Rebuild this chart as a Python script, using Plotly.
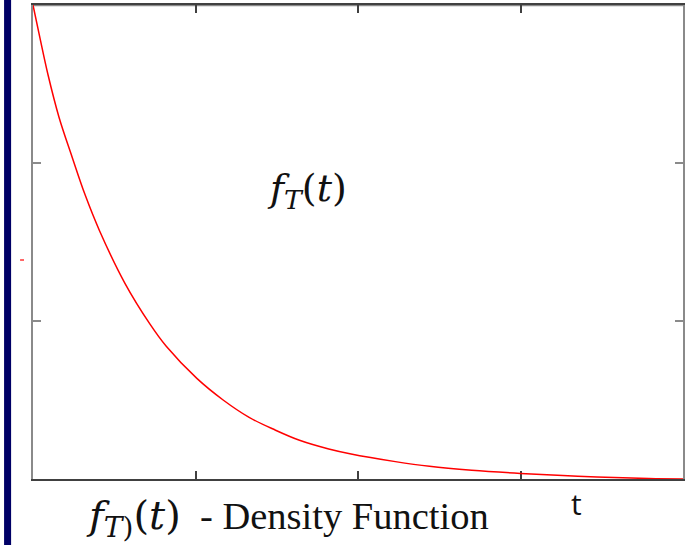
import plotly.graph_objects as go

# Values (t axis 0..4, density axis 0..3)
t_vals = [0, 0.043, 0.092, 0.16, 0.24, 0.32, 0.41, 0.565, 0.72, 0.82, 1.01, 1.17,
          1.33, 1.49, 1.64, 1.82, 1.95, 2.23, 2.44, 2.70, 3.0, 3.26, 3.47, 3.79, 4.0]
f_vals = [3.0, 2.79, 2.56, 2.29, 2.04, 1.80, 1.57, 1.24, 0.98, 0.84, 0.635, 0.50,
          0.39, 0.31, 0.245, 0.19, 0.16, 0.11, 0.08, 0.055, 0.035, 0.022, 0.013, 0.003, 0.0]
x_ticks = [1, 2, 3]
y_ticks = [1, 2]

fig = go.Figure()
fig.add_trace(go.Scatter(x=t_vals, y=f_vals, mode="lines",
                         line=dict(color="#ff0000", width=1.5, shape="spline", smoothing=1.0),
                         hoverinfo="skip", showlegend=False))

fig.update_layout(
    width=687, height=545,
    margin=dict(l=33, r=2, t=5, b=66),
    paper_bgcolor="white", plot_bgcolor="white",
    showlegend=False,
    xaxis=dict(range=[0, 4], tickvals=x_ticks, showticklabels=False, ticks="inside",
               ticklen=8, tickwidth=1.5, tickcolor="#404040", showgrid=False, zeroline=False,
               showline=True, linecolor="#404040", linewidth=1.5, mirror="ticks",
               layer="below traces"),
    yaxis=dict(range=[0, 3], tickvals=y_ticks, showticklabels=False, ticks="inside",
               ticklen=8, tickwidth=2, tickcolor="#8a8a8a", showgrid=False, zeroline=False,
               showline=True, linecolor="#8a8a8a", linewidth=2, mirror="ticks",
               layer="below traces"),
    shapes=[
        # gray top frame edge
        dict(type="line", xref="paper", yref="paper", x0=0, x1=1, y0=1, y1=1,
             line=dict(color="#8a8a8a", width=2.5), layer="below"),
        # navy bar on the left edge
        dict(type="rect", xref="paper", yref="paper", x0=-0.0445, x1=-0.0337,
             y0=-0.16, y1=1.03, fillcolor="#000066", line=dict(width=0)),
        # small red dash left of the axis
        dict(type="line", xref="paper", yref="paper", x0=-0.0199, x1=-0.0138,
             y0=0.462, y1=0.462, line=dict(color="#ff6666", width=2)),
    ],
    annotations=[
        dict(text="<i>f</i><sub><i>T</i></sub>(<i>t</i>)", xref="paper", yref="paper",
             x=0.4218, y=0.6097, xanchor="center", yanchor="middle", showarrow=False,
             font=dict(family="DejaVu Serif", size=38, color="#111111")),
        dict(text="<i>f</i><sub><i>T</i>)</sub>(<i>t</i>)", xref="paper", yref="paper",
             x=0.154, y=-0.082, xanchor="center", yanchor="middle", showarrow=False,
             font=dict(family="DejaVu Serif", size=40, color="#111111")),
        dict(text="- Density Function", xref="paper", yref="paper",
             x=0.4785, y=-0.078, xanchor="center", yanchor="middle", showarrow=False,
             font=dict(family="Liberation Serif", size=38.5, color="#111111")),
        dict(text="t", xref="paper", yref="paper",
             x=0.836, y=-0.052, xanchor="center", yanchor="middle", showarrow=False,
             font=dict(family="Open Sans", size=30, color="#111111")),
    ],
)

fig.write_html("out.html", config={"displayModeBar": False},
               post_script="document.body.style.margin='0';")
